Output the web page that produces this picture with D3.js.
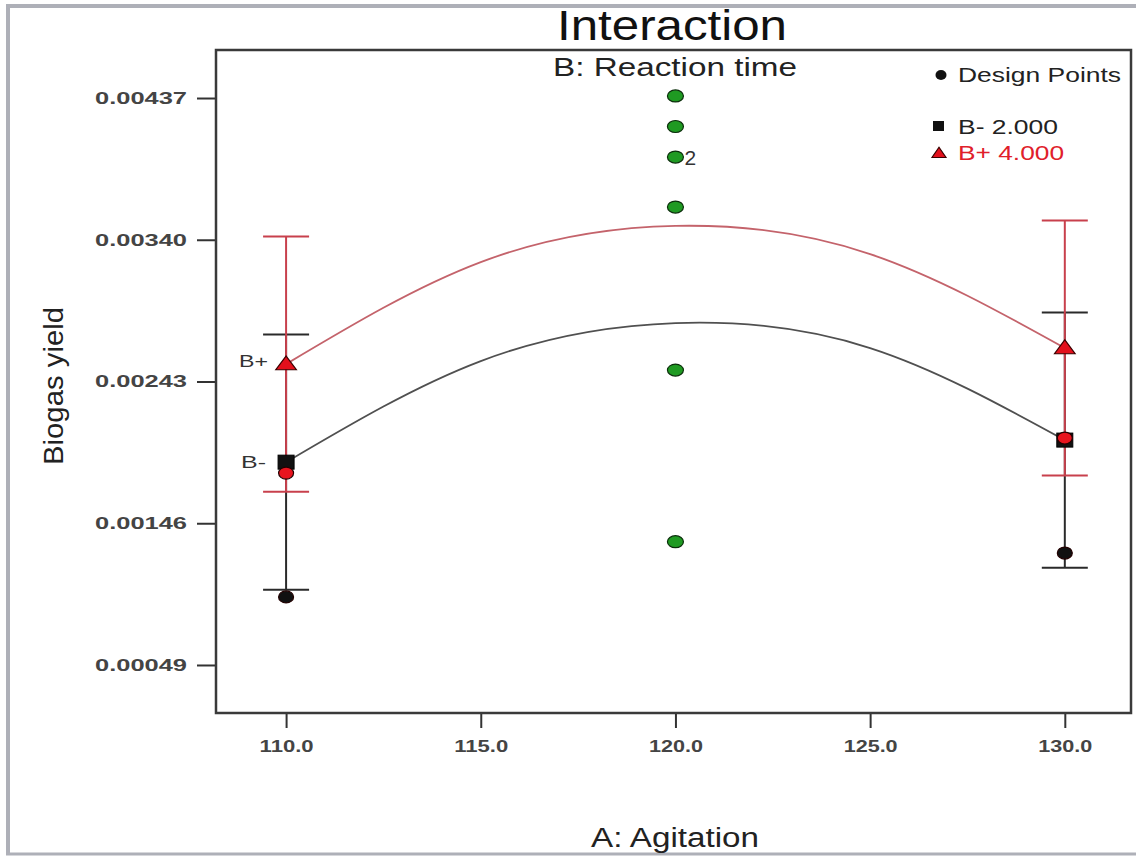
<!DOCTYPE html>
<html>
<head>
<meta charset="utf-8">
<script src="https://cdn.jsdelivr.net/npm/d3@7"></script>
<style>
    body { margin: 0; background: #fff; }
    text { font-family: "Liberation Sans", Arial, sans-serif; }
</style>
</head>
<body>
<div id="chart"></div>
<script>
'use strict';

// A: Agitation levels where the model is shown
var agitation = [110, 115, 120, 125, 130];
var xTicks = [110, 115, 120, 125, 130];
var yTicks = [0.00049, 0.00146, 0.00243, 0.00340, 0.00437];

// predicted Biogas yield for B- (2.000) and B+ (4.000)
var predLow = [0.001878, 0.002570, 0.002830, 0.002659, 0.002029];
var predHigh = [0.002549, 0.003247, 0.003495, 0.003302, 0.002659];

// LSD bars drawn at the factorial levels (index into agitation)
var barIndex = [0, 4];
var lsdHalf = 0.000873;

// design points
var designA = [110, 110, 130, 130, 120, 120, 120, 120, 120, 120];
var designY = [0.001803, 0.000956, 0.002043, 0.001256, 0.004384, 0.004175, 0.003966, 0.003624, 0.002508, 0.001334];
var designGroup = ['high', 'low', 'high', 'low', 'center', 'center', 'center', 'center', 'center', 'center'];
var designCount = [1, 1, 1, 1, 1, 1, 2, 1, 1, 1];

var W = 1136, H = 856;
var box = {left: 216, top: 50, right: 1131, bottom: 713};

var svg = d3.select('#chart')
    .append('svg')
    .attr('width', W)
    .attr('height', H);

// outer frame
svg.append('rect').attr('x', 0).attr('y', 0).attr('width', W).attr('height', H).attr('fill', '#fff');
svg.append('line').attr('x1', 8).attr('x2', 8).attr('y1', 4).attr('y2', 855)
    .attr('stroke', '#aeb0b8').attr('stroke-width', 4);
svg.append('line').attr('x1', 6).attr('x2', W).attr('y1', 6).attr('y2', 6)
    .attr('stroke', '#aeb0b8').attr('stroke-width', 4);
svg.append('line').attr('x1', 6).attr('x2', W).attr('y1', 854).attr('y2', 854)
    .attr('stroke', '#aeb0b8').attr('stroke-width', 3);

var x = d3.scaleLinear()
    .domain([108.2, 131.7])
    .range([box.left, box.right]);

var y = d3.scaleLinear()
    .domain([0.0001614, 0.0046986])
    .range([box.bottom, box.top]);

function stretch(sel, w) {
    sel.attr('textLength', w).attr('lengthAdjust', 'spacingAndGlyphs');
}

// axes
var yAxis = svg.append('g')
    .attr('transform', 'translate(' + box.left + ',0)')
    .call(d3.axisLeft(y).tickValues(yTicks).tickSize(19).tickPadding(10).tickFormat(d3.format('.5f')));
var xAxis = svg.append('g')
    .attr('transform', 'translate(0,' + box.bottom + ')')
    .call(d3.axisBottom(x).tickValues(xTicks).tickSize(15).tickPadding(12).tickFormat(d3.format('.1f')));

[yAxis, xAxis].forEach(function (ax) {
    ax.select('.domain').remove();
    ax.selectAll('.tick line').attr('stroke', '#333').attr('stroke-width', 2);
    ax.selectAll('.tick text')
        .attr('fill', '#444')
        .attr('font-size', 17)
        .attr('font-weight', 'bold')
        .style('font-family', '"Liberation Sans", Arial, sans-serif');
});
yAxis.selectAll('.tick text').call(stretch, 92);
xAxis.selectAll('.tick text').call(stretch, 54);

// plot frame
svg.append('rect')
    .attr('x', box.left)
    .attr('y', box.top)
    .attr('width', box.right - box.left)
    .attr('height', box.bottom - box.top)
    .attr('fill', 'none')
    .attr('stroke', '#3a3a3a')
    .attr('stroke-width', 2.5);

// prediction curves
var line = d3.line().curve(d3.curveNatural)
    .x(function (d) { return x(d.a); })
    .y(function (d) { return y(d.v); });

function series(vals) {
    return agitation.map(function (a, i) { return {a: a, v: vals[i]}; });
}

svg.append('path')
    .attr('d', line(series(predLow)))
    .attr('fill', 'none')
    .attr('stroke', '#505050')
    .attr('stroke-width', 1.8);
svg.append('path')
    .attr('d', line(series(predHigh)))
    .attr('fill', 'none')
    .attr('stroke', '#c4636b')
    .attr('stroke-width', 1.8);

// LSD bars: black first, red on top
function bars(vals, color) {
    var g = svg.append('g').attr('stroke', color).attr('stroke-width', 2);
    var d = barIndex.map(function (i) { return {a: agitation[i], v: vals[i]}; });
    g.selectAll('line.stem').data(d).enter().append('line')
        .attr('class', 'stem')
        .attr('x1', function (d) { return x(d.a); })
        .attr('x2', function (d) { return x(d.a); })
        .attr('y1', function (d) { return y(d.v + lsdHalf); })
        .attr('y2', function (d) { return y(d.v - lsdHalf); });
    [lsdHalf, -lsdHalf].forEach(function (off) {
        g.selectAll(null).data(d).enter().append('line')
            .attr('x1', function (d) { return x(d.a) - 23; })
            .attr('x2', function (d) { return x(d.a) + 23; })
            .attr('y1', function (d) { return y(d.v + off); })
            .attr('y2', function (d) { return y(d.v + off); });
    });
}
bars(predLow, '#2a2a2a');
bars(predHigh, '#c8404c');

// mean markers
svg.selectAll('rect.low').data(barIndex).enter().append('rect')
    .attr('class', 'low')
    .attr('x', function (i) { return x(agitation[i]) - 8; })
    .attr('y', function (i) { return y(predLow[i]) - 7; })
    .attr('width', 16)
    .attr('height', 14)
    .attr('fill', '#111')
    .attr('stroke', '#000');

var tri = d3.symbol().type(d3.symbolTriangle).size(110);
svg.selectAll('path.high').data(barIndex).enter().append('path')
    .attr('class', 'high')
    .attr('d', tri)
    .attr('transform', function (i) { return 'translate(' + x(agitation[i]) + ',' + (y(predHigh[i]) + 1) + ') scale(1.3,1)'; })
    .attr('fill', '#e3101c')
    .attr('stroke', '#3a0000')
    .attr('stroke-width', 1);

// design points
var fills = {high: '#e8141e', low: '#111', center: '#1f9a22'};
var pts = designA.map(function (a, i) {
    return {a: a, v: designY[i], g: designGroup[i], n: designCount[i]};
});
svg.selectAll('ellipse.dp').data(pts).enter().append('ellipse')
    .attr('class', 'dp')
    .attr('cx', function (d) { return x(d.a); })
    .attr('cy', function (d) { return y(d.v); })
    .attr('rx', function (d) { return d.g === 'center' ? 8 : 7.5; })
    .attr('ry', 6)
    .attr('fill', function (d) { return fills[d.g]; })
    .attr('stroke', function (d) { return d.g === 'center' ? '#0b2e0b' : '#220000'; })
    .attr('stroke-width', 1.2);
svg.selectAll('text.cnt').data(pts.filter(function (d) { return d.n > 1; })).enter().append('text')
    .attr('class', 'cnt')
    .attr('x', function (d) { return x(d.a) + 9; })
    .attr('y', function (d) { return y(d.v) + 8; })
    .attr('font-size', 21)
    .attr('fill', '#333')
    .text(function (d) { return d.n; });

// B+ / B- tags on the left
svg.append('text')
    .attr('x', x(agitation[0]) - 18)
    .attr('y', y(predHigh[0]) + 3)
    .attr('text-anchor', 'end')
    .attr('font-size', 17)
    .attr('fill', '#333')
    .text('B+')
    .call(stretch, 29);
svg.append('text')
    .attr('x', x(agitation[0]) - 20)
    .attr('y', y(predLow[0]) + 6)
    .attr('text-anchor', 'end')
    .attr('font-size', 17)
    .attr('fill', '#333')
    .text('B-')
    .call(stretch, 25);

// titles
svg.append('text')
    .attr('x', 672).attr('y', 40)
    .attr('text-anchor', 'middle')
    .attr('font-size', 42)
    .attr('fill', '#111')
    .text('Interaction')
    .call(stretch, 230);
svg.append('text')
    .attr('x', 675).attr('y', 76)
    .attr('text-anchor', 'middle')
    .attr('font-size', 25)
    .attr('fill', '#222')
    .text('B: Reaction time')
    .call(stretch, 244);
svg.append('text')
    .attr('x', 675).attr('y', 847)
    .attr('text-anchor', 'middle')
    .attr('font-size', 27)
    .attr('fill', '#222')
    .text('A: Agitation')
    .call(stretch, 168);
svg.append('text')
    .attr('transform', 'translate(63,386) rotate(-90)')
    .attr('text-anchor', 'middle')
    .attr('font-size', 28)
    .attr('fill', '#222')
    .text('Biogas yield')
    .call(stretch, 158);

// legend
var legend = svg.append('g').attr('font-size', 20);
legend.append('ellipse').attr('cx', 941).attr('cy', 75).attr('rx', 5.5).attr('ry', 5).attr('fill', '#111');
legend.append('text').attr('x', 958).attr('y', 82).attr('fill', '#222').text('Design Points').call(stretch, 163);
legend.append('rect').attr('x', 933).attr('y', 121).attr('width', 11).attr('height', 10).attr('fill', '#111');
legend.append('text').attr('x', 958).attr('y', 134).attr('fill', '#222').text('B- 2.000').call(stretch, 100);
legend.append('path')
    .attr('d', d3.symbol().type(d3.symbolTriangle).size(60))
    .attr('transform', 'translate(939,154) scale(1.2,1)')
    .attr('fill', '#e3101c')
    .attr('stroke', '#3a0000');
legend.append('text').attr('x', 958).attr('y', 160).attr('fill', '#e0202a').text('B+ 4.000').call(stretch, 106);
</script>
</body>
</html>
